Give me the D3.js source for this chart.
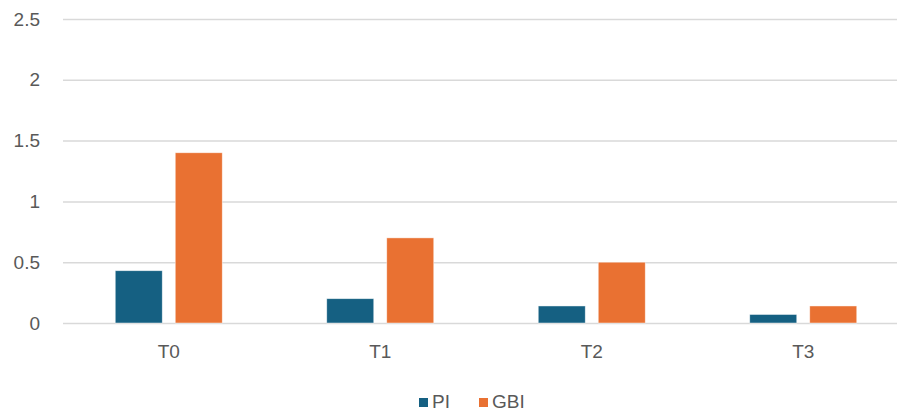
<!DOCTYPE html>
<html>
<head>
<meta charset="utf-8">
<script src="https://cdn.jsdelivr.net/npm/d3@7"></script>
<style>
  html, body { margin: 0; padding: 0; background: #fff; }
  svg { display: block; font-family: "Liberation Sans", Arial, sans-serif; }
</style>
</head>
<body>
<svg id="chart" width="897" height="414"></svg>
<script>
// Time points and the two index series
const categories = ["T0", "T1", "T2", "T3"];
const seriesNames = ["PI", "GBI"];
const piValues = [0.43, 0.2, 0.14, 0.07];
const gbiValues = [1.4, 0.7, 0.5, 0.14];
const yTicks = [0, 0.5, 1, 1.5, 2, 2.5];

const colors = { PI: "#156082", GBI: "#E97132" };
const textColor = "#595959";
const fontSize = 19;

const svg = d3.select("#chart");

const plot = { left: 63, right: 909, top: 19, bottom: 323 };

const x = d3.scaleBand()
  .domain(categories)
  .range([plot.left, plot.right])
  .paddingInner(0)
  .paddingOuter(0);

const y = d3.scaleLinear()
  .domain([0, 2.5])
  .range([plot.bottom, plot.top]);

// Horizontal gridlines with value labels
const yAxis = d3.axisLeft(y)
  .tickValues(yTicks)
  .tickFormat(d3.format("~g"))
  .tickSize(-(plot.right - plot.left))
  .tickPadding(23);

const gy = svg.append("g")
  .attr("transform", `translate(${plot.left},0)`)
  .call(yAxis);
gy.select(".domain").remove();
gy.selectAll(".tick line")
  .attr("stroke", "#D9D9D9")
  .attr("stroke-width", 1.5);
gy.selectAll(".tick text")
  .attr("fill", textColor)
  .attr("font-size", fontSize);

// Grouped bars
const barW = 47, innerGap = 13;
const groupW = barW * 2 + innerGap;
const xSub = d3.scaleBand()
  .domain(seriesNames)
  .range([(x.bandwidth() - groupW) / 2, (x.bandwidth() + groupW) / 2])
  .paddingInner(innerGap / (barW + innerGap))
  .paddingOuter(0);

const rows = categories.map((c, i) => ({ cat: c, PI: piValues[i], GBI: gbiValues[i] }));

const groups = svg.append("g").selectAll("g")
  .data(rows)
  .join("g")
  .attr("transform", d => `translate(${x(d.cat)},0)`);

groups.selectAll("rect")
  .data(d => seriesNames.map(s => ({ s, v: d[s] })))
  .join("rect")
  .attr("x", d => xSub(d.s))
  .attr("width", xSub.bandwidth())
  .attr("y", d => y(d.v))
  .attr("height", d => y(0) - y(d.v))
  .attr("fill", d => colors[d.s])
  .attr("stroke", "#fff")
  .attr("stroke-opacity", 0.6)
  .attr("stroke-width", 0.75);

// Category labels
const xAxis = d3.axisBottom(x).tickSize(0).tickPadding(22);
const gx = svg.append("g")
  .attr("transform", `translate(0,${plot.bottom})`)
  .call(xAxis);
gx.select(".domain").remove();
gx.selectAll(".tick text")
  .attr("fill", textColor)
  .attr("font-size", fontSize);

// Legend
const legend = svg.append("g").attr("transform", "translate(419,0)");
const legendItems = [
  { name: "PI", x: 0 },
  { name: "GBI", x: 60 }
];
const li = legend.selectAll("g")
  .data(legendItems)
  .join("g")
  .attr("transform", d => `translate(${d.x},0)`);
li.append("rect")
  .attr("x", 0).attr("y", 398)
  .attr("width", 9).attr("height", 9)
  .attr("fill", d => colors[d.name]);
li.append("text")
  .attr("x", 13).attr("y", 408)
  .attr("fill", textColor)
  .attr("font-size", fontSize)
  .text(d => d.name);
</script>
</body>
</html>
